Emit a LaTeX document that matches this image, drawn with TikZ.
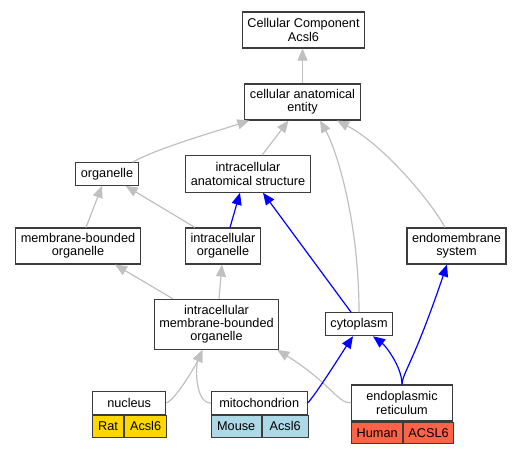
\documentclass[tikz,border=0pt]{standalone}
\usepackage{fontspec}
\setmainfont{Liberation Sans}
\usetikzlibrary{positioning, arrows.meta}

\definecolor{isagray}{RGB}{192,192,192}
\definecolor{partblue}{RGB}{0,0,255}
\definecolor{boxline}{RGB}{60,60,60}
\definecolor{ratyellow}{RGB}{255,215,0}
\definecolor{mouseblue}{RGB}{173,216,230}
\definecolor{humanred}{RGB}{255,99,71}

\tikzset{
  term/.style={draw=boxline, line width=1.1pt, fill=white, align=center,
    inner xsep=5pt, inner ysep=0pt, font=\fontsize{12.7}{13.3}\selectfont},
  cell/.style={term, anchor=north west, inner xsep=2pt},
  isa/.style={draw=isagray, line width=1.2pt, -{Triangle[length=12pt, width=10pt]}},
  partof/.style={isa, draw=partblue},
}

\begin{document}
\begin{tikzpicture}[x=1pt, y=-1pt]
    \useasboundingbox (0,0) rectangle (523,453);

    % Draw the terms
    \foreach \n/\x/\y/\h/\t in {
      cc/303.5/30/36/Cellular Component\\Acsl6,
      cae/302.5/102/36/cellular anatomical\\entity,
      org/107/174/22.6/organelle,
      ias/248/174/36.5/intracellular\\anatomical structure,
      mbo/78/246/36/membrane-bounded\\organelle,
      io/223/246/36/intracellular\\organelle,
      ems/456.5/246/36/endomembrane\\system,
      imbo/216.5/324.3/50/intracellular\\membrane-bounded\\organelle,
      cyto/359/324.2/23/cytoplasm} {
      \node[term, minimum height=\h pt] (\n) at (\x,\y) {\t};
    }

    % Annotated terms with species and gene
    \node[term, minimum width=73pt, minimum height=22.6pt] (nuc) at (129.2,403) {nucleus};
    \node[cell, fill=ratyellow, minimum width=30.6pt, minimum height=22pt] (nuc-sp) at (nuc.south west) {Rat};
    \node[cell, fill=ratyellow, minimum width=42.4pt, minimum height=22pt] (nuc-gene) at (nuc-sp.north east) {Acsl6};

    \node[term, minimum width=95.7pt, minimum height=22.6pt] (mito) at (259.2,403) {mitochondrion};
    \node[cell, fill=mouseblue, minimum width=49.7pt, minimum height=22pt] (mito-sp) at (mito.south west) {Mouse};
    \node[cell, fill=mouseblue, minimum width=46pt, minimum height=22pt] (mito-gene) at (mito-sp.north east) {Acsl6};

    \node[term, minimum width=100.6pt, minimum height=36pt] (er) at (402,403) {endoplasmic\\reticulum};
    \node[cell, fill=humanred, minimum width=51pt, minimum height=21.7pt] (er-sp) at (er.south west) {Human};
    \node[cell, fill=humanred, minimum width=49.6pt, minimum height=21.7pt] (er-gene) at (er-sp.north east) {ACSL6};

    % is_a edges
    \draw[isa] (cae.north) -- (cae.north |- cc.south);
    \draw[isa] ([xshift=-6pt]org.north east) .. controls +(25,-14) and +(-40,13) .. ([xshift=5pt]cae.south west);
    \draw[isa] ([xshift=14pt]ias.north) -- ([xshift=-14pt]cae.south);
    \draw[isa] (cyto.north) .. controls +(0,-90) and +(17,30) .. ([xshift=17.5pt]cae.south);
    \draw[isa] ([xshift=-11.5pt]ems.north) .. controls +(-12,-23) and +(48,25) .. ([xshift=34.5pt]cae.south);
    \draw[isa] ([xshift=8pt]mbo.north) -- ([xshift=-5pt]org.south);
    \draw[isa] ([xshift=10pt]io.north west) -- ([xshift=-13pt]org.south east);
    \draw[isa] ([xshift=19pt]imbo.north west) -- ([xshift=37pt]mbo.south);
    \draw[isa] ([xshift=2.5pt]imbo.north) -- ([xshift=-1pt]io.south);
    \draw[isa] (mito.west) .. controls +(-16,0) and +(-7,16) .. ([xshift=-14pt]imbo.south);
    \draw[isa] (nuc.east) .. controls +(9,-3) and +(-7,16) .. ([xshift=-14pt]imbo.south);
    \draw[isa] (er.west) .. controls +(-14,0) and +(53,33) .. ([xshift=-2pt]imbo.south east);

    % part_of edges
    \draw[partof] ([xshift=7pt]io.north) -- ([xshift=-8pt]ias.south);
    \draw[partof] ([xshift=-8pt]cyto.north) -- ([xshift=15pt]ias.south);
    \draw[partof] (er.north) .. controls +(1,-13) and +(-34,100) .. ([xshift=-9.5pt]ems.south);
    \draw[partof] (er.north) .. controls +(0,-18) and +(12,9) .. ([xshift=14pt]cyto.south);
    \draw[partof] (mito.east) .. controls +(8,-8) and +(-10,15) .. ([xshift=-6pt]cyto.south);
\end{tikzpicture}
\end{document}
